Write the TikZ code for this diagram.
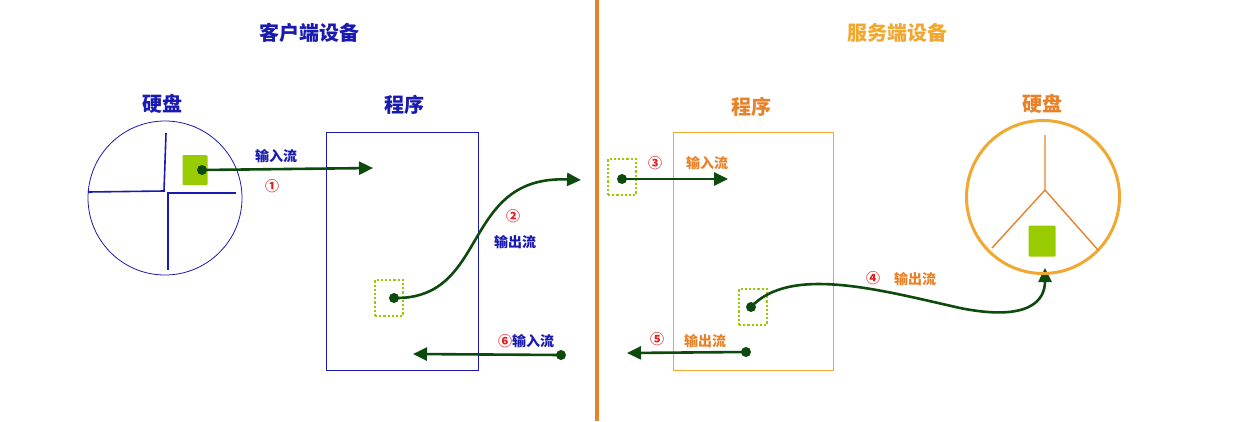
\documentclass[tikz,border=0pt]{standalone}
\usepackage{fontspec}
\newfontfamily\cjk{Noto Sans CJK SC}
\usetikzlibrary{arrows.meta}
\definecolor{cb}{HTML}{1A1AB0}
\definecolor{co}{HTML}{E8822A}
\definecolor{cy}{HTML}{F0A830}
\definecolor{cg}{HTML}{99CC00}
\definecolor{cd}{HTML}{0D4A0D}
\definecolor{cr}{HTML}{E02020}
\tikzset{
 lbl/.style={font=\cjk\bfseries\fontsize{14}{16}\selectfont},
 ttl/.style={font=\cjk\bfseries\fontsize{20}{24}\selectfont},
 num/.style={font=\cjk\bfseries\fontsize{14}{16}\selectfont, text=cr},
 flow/.style={cd, line width=2.6pt, -{Triangle[length=14pt,width=13pt]}},
 dotb/.style={draw=cg, dotted, line width=2.2pt, minimum width=28pt, minimum height=36pt, inner sep=0},
 dt/.style={circle, fill=cd, inner sep=0, minimum size=10pt},
}
\begin{document}
\begin{tikzpicture}[x=1pt,y=-1pt]
\useasboundingbox (0,0) rectangle (1237,421);
\draw[co, line width=3.5pt] (597,0) -- (597,421);
\node[ttl, text=cb] (t1) at (309,33) {客户端设备};
\node[ttl, text=cy] (t2) at (897,33) {服务端设备};
% left disk
\node[ttl, text=cb] (h1) at (162,104) {硬盘};
\node[draw=cb, thick, circle, minimum size=154pt, inner sep=0] (d1) at (165,198) {};
\draw[cb, line width=1.6pt] (166,133) -- (164,191) -- (88,192);
\draw[cb, line width=1.6pt] (236,193) -- (168,193) -- (168,270);
\node[fill=cg, rounded corners=1pt, minimum width=25pt, minimum height=30pt, inner sep=0] (g1) at (195,170) {};
\node[dt] (p1) at (202,170) {};
% left program
\node[ttl, text=cb] (r1) at (404,105) {程序};
\node[draw=cb, thick, minimum width=152pt, minimum height=238pt, inner sep=0] (b1) at (402,251) {};
\coordinate (e1) at (373,168);
\draw[flow] (p1.center) -- (e1);
\node[lbl, text=cb] at (276,156) {输入流};
\node[num] at (272,186) {①};
\node[dotb] (s1) at (389,298) {};
\node[dt] (p2) at (394,298) {};
\coordinate (e2) at (581,180);
\draw[flow] (p2.center) .. controls (490,300) and (460,175) .. (e2);
\node[num] at (513,216) {②};
\node[lbl, text=cb] at (515,242) {输出流};
\node[dt] (p6) at (561,355) {};
\coordinate (e6) at (413,354);
\draw[flow] (p6.center) -- (e6);
\node[lbl, text=cb] at (526,341) {\textcolor{cr}{⑥}输入流};
% right program
\node[ttl, text=co] (r2) at (751,107) {程序};
\node[draw=cy, thick, minimum width=160pt, minimum height=238pt, inner sep=0] (b2) at (753,251) {};
\node[dotb] (s3) at (622,177) {};
\node[dt] (p3) at (622,179) {};
\coordinate (e3) at (728,179);
\draw[flow] (p3.center) -- (e3);
\node[num] at (655,163) {③};
\node[lbl, text=co] at (707,163) {输入流};
\node[dotb] (s4) at (753,307) {};
\node[dt] (p4) at (751,307) {};
\coordinate (e4) at (1045,268);
\draw[flow] (p4.center) .. controls (790,265) and (880,290) .. (960,308) .. controls (1030,322) and (1045,300) .. (e4);
\node[num] at (873,278) {④};
\node[lbl, text=co] at (915,279) {输出流};
\node[dt] (p5) at (746,352) {};
\coordinate (e5) at (627,353);
\draw[flow] (p5.center) -- (e5);
\node[num] at (657,339) {⑤};
\node[lbl, text=co] at (705,341) {输出流};
% right disk
\node[ttl, text=co] (h2) at (1042,104) {硬盘};
\node[draw=cy, line width=3pt, circle, minimum size=153pt, inner sep=0] (d2) at (1043,197) {};
\draw[co, line width=1.4pt] (1045,135) -- (1045,190) -- (992,248);
\draw[co, line width=1.4pt] (1045,190) -- (1098,250);
\node[fill=cg, rounded corners=1pt, minimum width=27pt, minimum height=31pt, inner sep=0] (g2) at (1042,241) {};
\end{tikzpicture}
\end{document}
